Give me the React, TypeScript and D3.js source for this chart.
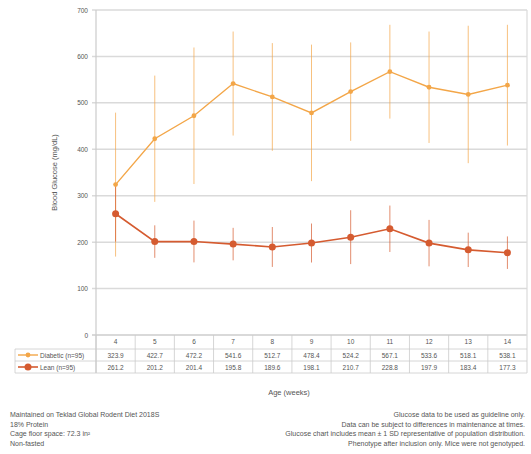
import React from "react";
import * as d3 from "d3";

const weeks = ["4", "5", "6", "7", "8", "9", "10", "11", "12", "13", "14"];
const diabeticMean = [323.9, 422.7, 472.2, 541.6, 512.7, 478.4, 524.2, 567.1, 533.6, 518.1, 538.1];
const diabeticSD = [155, 136, 147, 112, 116, 147, 106, 101, 120, 148, 130];
const leanMean = [261.2, 201.2, 201.4, 195.8, 189.6, 198.1, 210.7, 228.8, 197.9, 183.4, 177.3];
const leanSD = [60, 35, 45, 35, 43, 42, 58, 50, 50, 37, 35];
const yTicks = [0, 100, 200, 300, 400, 500, 600, 700];
const seriesNames = ["Diabetic (n=95)", "Lean (n=95)"];
const footLeft = [
  "Maintained on Teklad Global Rodent Diet 2018S",
  "18% Protein",
  "Cage floor space: 72.3 in²",
  "Non-fasted",
];
const footRight = [
  "Glucose data to be used as guideline only.",
  "Data can be subject to differences in maintenance at times.",
  "Glucose chart includes mean ± 1 SD representative of population distribution.",
  "Phenotype after inclusion only. Mice were not genotyped.",
];

const ORANGE = "#f3a648";
const RED = "#d55b30";
const GRID = "#dadada";
const TEXT = "#555";

export default function App() {
  const x = d3.scaleBand<string>().domain(weeks).range([96, 527]).padding(0);
  const y = d3.scaleLinear().domain([0, 700]).range([335, 10]);
  const cx = (w: string) => (x(w) as number) + x.bandwidth() / 2;
  const line = d3
    .line<number>()
    .x((_, i) => cx(weeks[i]))
    .y((d) => y(d));

  const series = [
    { name: seriesNames[0], mean: diabeticMean, sd: diabeticSD, color: ORANGE, r: 2.4, lw: 1.4 },
    { name: seriesNames[1], mean: leanMean, sd: leanSD, color: RED, r: 3.5, lw: 1.6 },
  ];

  const rowY = [349, 361, 373];
  const font = "Arial, 'Liberation Sans', sans-serif";

  return (
    <svg
      width={531}
      height={454}
      style={{ position: "absolute", left: 0, top: 0, background: "#fff" }}
      fontFamily={font}
    >
      {/* grid */}
      {yTicks.map((t) => (
        <g key={t}>
          <line x1={92} x2={527} y1={y(t)} y2={y(t)} stroke={t === 0 ? "#cccccc" : GRID} strokeWidth={1.5} />
          <text x={88} y={y(t) + 2.5} fontSize={6.5} textAnchor="end" fill={TEXT}>
            {t}
          </text>
        </g>
      ))}
      <line x1={96} x2={96} y1={10} y2={373} stroke="#cccccc" strokeWidth={1.2} />
      <line x1={527} x2={527} y1={10} y2={373} stroke={GRID} strokeWidth={1.2} />
      <text
        transform={`translate(57,${y(350)}) rotate(-90)`}
        fontSize={7.5}
        textAnchor="middle"
        fill={TEXT}
      >
        Blood Glucose (mg/dL)
      </text>

      {/* error bars */}
      {series.map((s) =>
        s.mean.map((m, i) => (
          <line
            key={s.name + i}
            x1={cx(weeks[i])}
            x2={cx(weeks[i])}
            y1={y(m + s.sd[i])}
            y2={y(m - s.sd[i])}
            stroke={s.color}
            strokeOpacity={0.7}
            strokeWidth={1}
          />
        ))
      )}
      {/* lines and points */}
      {series.map((s) => (
        <g key={s.name}>
          <path d={line(s.mean) || ""} fill="none" stroke={s.color} strokeWidth={s.lw} />
          {s.mean.map((m, i) => (
            <circle key={i} cx={cx(weeks[i])} cy={y(m)} r={s.r} fill={s.color} />
          ))}
        </g>
      ))}

      {/* table */}
      {weeks.map((w, i) => (
        <g key={w}>
          <line x1={x(w) as number} x2={x(w) as number} y1={335} y2={373} stroke="#cccccc" strokeWidth={0.8} />
          <text x={cx(w)} y={344} fontSize={6.5} textAnchor="middle" fill={TEXT}>
            {w}
          </text>
          <text x={cx(w)} y={357.5} fontSize={6.5} textAnchor="middle" fill={TEXT}>
            {diabeticMean[i].toFixed(1)}
          </text>
          <text x={cx(w)} y={369.5} fontSize={6.5} textAnchor="middle" fill={TEXT}>
            {leanMean[i].toFixed(1)}
          </text>
        </g>
      ))}
      {rowY.map((ry) => (
        <line key={ry} x1={15} x2={527} y1={ry} y2={ry} stroke="#cccccc" strokeWidth={0.8} />
      ))}
      <line x1={15} x2={15} y1={349} y2={373} stroke="#cccccc" strokeWidth={0.8} />
      {series.map((s, k) => (
        <g key={s.name}>
          <line x1={18} x2={38} y1={rowY[k] + 6} y2={rowY[k] + 6} stroke={s.color} strokeWidth={s.lw} />
          <circle cx={28} cy={rowY[k] + 6} r={s.r} fill={s.color} />
          <text x={40} y={rowY[k] + 8.5} fontSize={6.5} fill={TEXT}>
            {s.name}
          </text>
        </g>
      ))}
      <text x={289} y={395} fontSize={7.5} textAnchor="middle" fill={TEXT}>
        Age (weeks)
      </text>

      {/* footnotes */}
      {footLeft.map((t, i) => (
        <text key={t} x={10} y={417 + i * 9.5} fontSize={7} fill={TEXT}>
          {t}
        </text>
      ))}
      {footRight.map((t, i) => (
        <text key={t} x={525} y={417 + i * 9.5} fontSize={7} textAnchor="end" fill={TEXT}>
          {t}
        </text>
      ))}
    </svg>
  );
}
